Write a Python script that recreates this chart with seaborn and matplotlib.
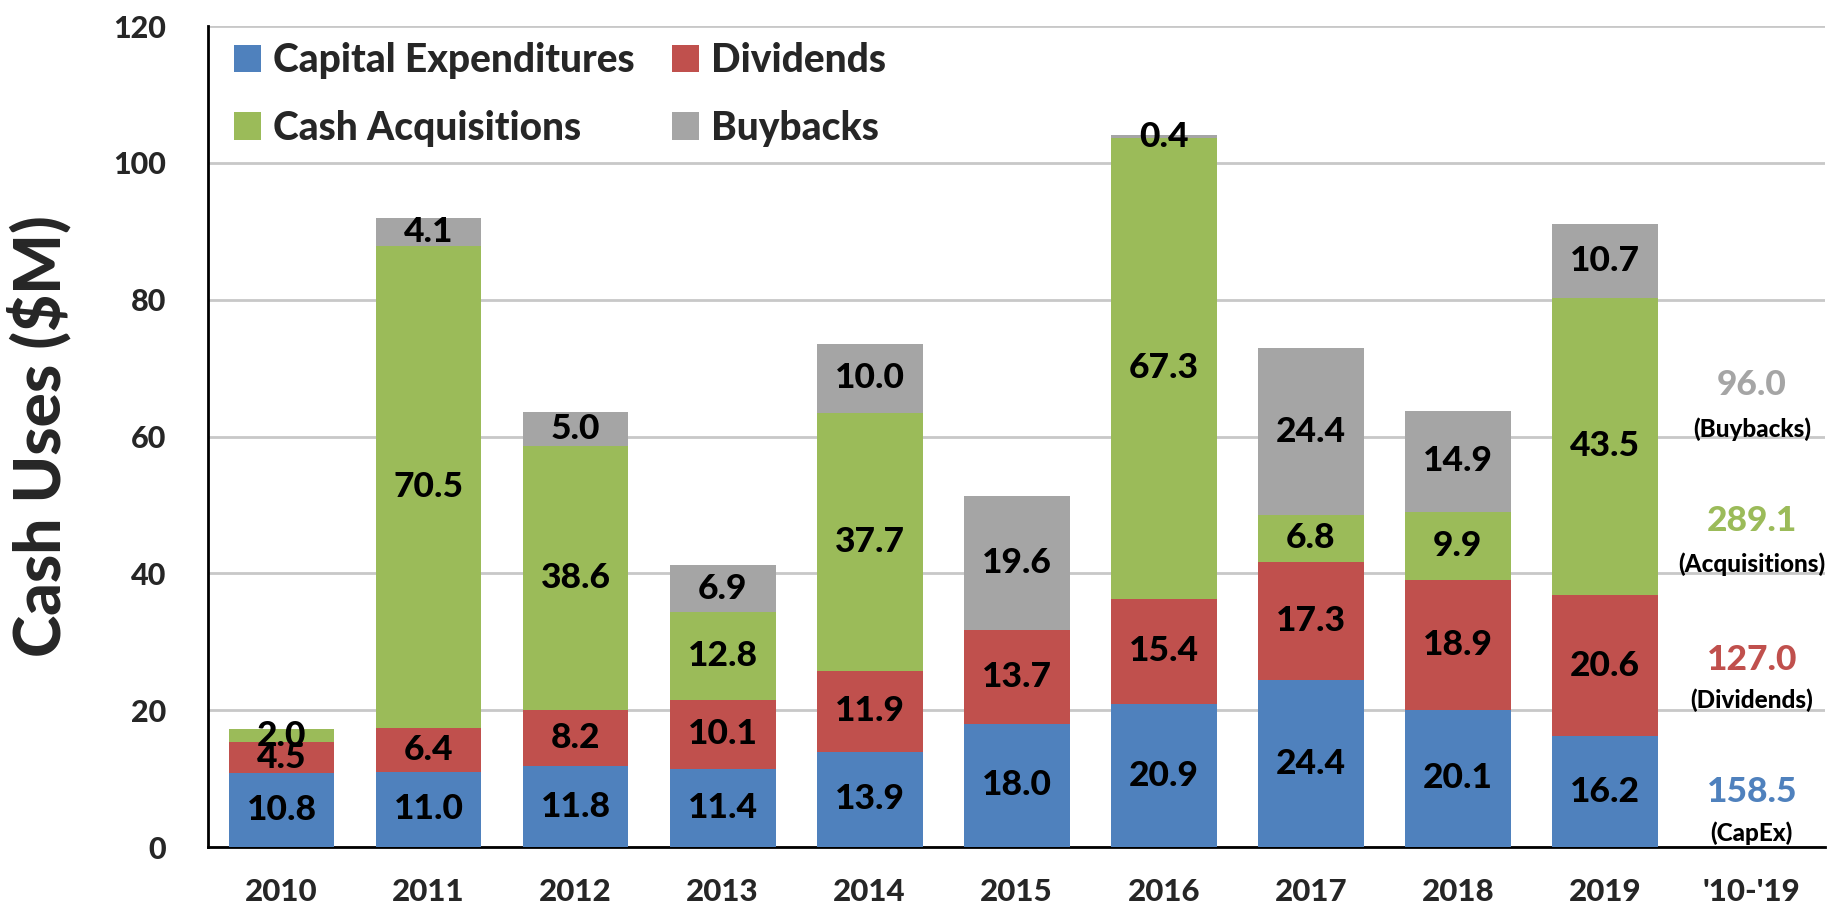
import matplotlib
matplotlib.use("Agg")
import matplotlib.pyplot as plt
from matplotlib.patches import Patch
import seaborn as sns
import pandas as pd
import numpy as np

years = ["2010", "2011", "2012", "2013", "2014", "2015", "2016", "2017", "2018", "2019"]
total_label = "'10-'19"
capex = [10.8, 11.0, 11.8, 11.4, 13.9, 18.0, 20.9, 24.4, 20.1, 16.2]
dividends = [4.5, 6.4, 8.2, 10.1, 11.9, 13.7, 15.4, 17.3, 18.9, 20.6]
acquisitions = [2.0, 70.5, 38.6, 12.8, 37.7, 0.0, 67.3, 6.8, 9.9, 43.5]
buybacks = [0.0, 4.1, 5.0, 6.9, 10.0, 19.6, 0.4, 24.4, 14.9, 10.7]

series_names = ["Capital Expenditures", "Dividends", "Cash Acquisitions", "Buybacks"]
short_names = ["(CapEx)", "(Dividends)", "(Acquisitions)", "(Buybacks)"]
colors = ["#4F81BD", "#C0504D", "#9BBB59", "#A5A5A5"]
yticks = [0, 20, 40, 60, 80, 100, 120]

sns.set_theme(style="white")
plt.rcParams["font.family"] = ["Lato", "DejaVu Sans"]
W = "black"

series = [capex, dividends, acquisitions, buybacks]
arr = np.array(series)
cum = np.cumsum(arr, axis=0)
order = years + [total_label]

fig = plt.figure(figsize=(18.29, 9.10), dpi=100)
ax = fig.add_axes([0.1137, 0.0692, 0.8843, 0.9022])

for i in reversed(range(4)):
    df = pd.DataFrame({"year": years, "value": cum[i]})
    sns.barplot(data=df, x="year", y="value", order=order, color=colors[i],
                width=0.72, saturation=1, ax=ax, zorder=3, linewidth=0)

# segment labels
for i in range(4):
    for j, y in enumerate(years):
        v = arr[i, j]
        if v <= 0:
            continue
        mid = cum[i, j] - v / 2
        ax.text(j, mid, f"{v:.1f}", ha="center", va="center", fontsize=25.5,
                fontweight=W, color="black", zorder=5)

# totals column
tot_x = len(years)
num_pos = [8.0, 27.4, 47.7, 67.6]
name_pos = [2.0, 21.4, 41.4, 61.1]
for i in range(4):
    ax.text(tot_x, num_pos[i], f"{arr[i].sum():.1f}", ha="center", va="center",
            fontsize=25.5, fontweight=W, color=colors[i], zorder=5)
    ax.text(tot_x, name_pos[i], short_names[i], ha="center", va="center",
            fontsize=17.5, fontweight=W, color="black", zorder=5)

ax.set_xlim(-0.5, 10.5)
ax.set_ylim(0, 120)
ax.set_yticks(yticks)
ax.set_yticklabels([str(t) for t in yticks], fontsize=22, fontweight=W)
ax.set_xticks(range(len(order)))
ax.set_xticklabels(order, fontsize=22.5, fontweight=W)
ax.tick_params(axis="x", length=0, pad=22)
ax.tick_params(axis="y", length=0, pad=30)
ax.yaxis.grid(True, color="#C8C8C8", linewidth=2, zorder=0)
ax.set_axisbelow(True)
ax.set_xlabel("")
ax.set_ylabel("Cash Uses ($M)", fontsize=46, fontweight=W, labelpad=30)
for s in ["top", "right"]:
    ax.spines[s].set_visible(False)
for s in ["left", "bottom"]:
    ax.spines[s].set_visible(True)
    ax.spines[s].set_color("black")
    ax.spines[s].set_linewidth(2)

leg_order = [0, 2, 1, 3]
handles = [Patch(facecolor=colors[k], edgecolor="none") for k in leg_order]
labels = [series_names[k] for k in leg_order]
leg = ax.legend(handles, labels, ncol=2, loc="upper left", frameon=False,
                bbox_to_anchor=(-0.003, 1.018), fontsize=28, handlelength=0.7,
                handleheight=0.7, handletextpad=0.3, columnspacing=0.95,
                labelspacing=0.78, borderaxespad=0.4)
for t in leg.get_texts():
    t.set_fontweight(W)

fig.savefig("out.png", dpi=100)
